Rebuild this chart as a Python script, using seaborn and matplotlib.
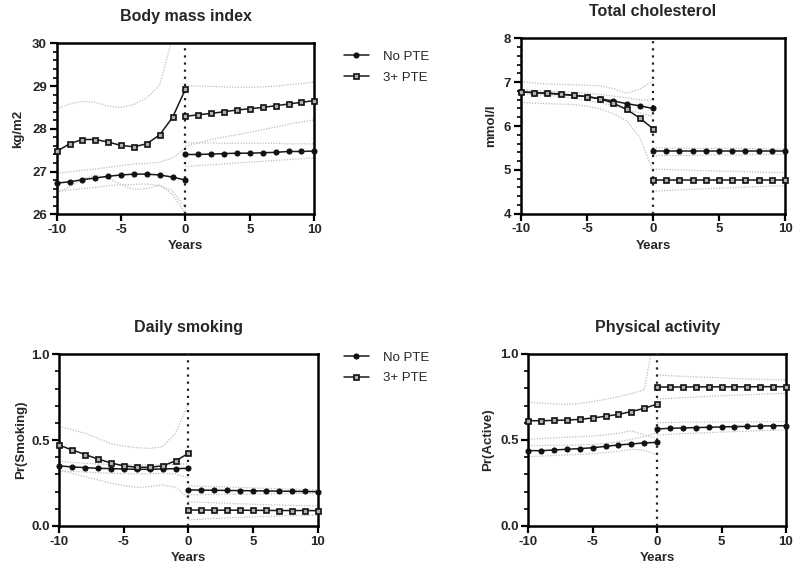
import numpy as np
import pandas as pd
import matplotlib
matplotlib.use("Agg")
import matplotlib.pyplot as plt
from matplotlib.lines import Line2D
from matplotlib.ticker import MultipleLocator
import seaborn as sns

sns.set_style("ticks")
plt.rcParams['font.family'] = ['Liberation Sans', 'DejaVu Sans']

years_pre = [-10, -9, -8, -7, -6, -5, -4, -3, -2, -1, 0]
years_post = [0, 1, 2, 3, 4, 5, 6, 7, 8, 9, 10]
group_labels = ["No PTE", "3+ PTE"]
x_ticks = [-10, -5, 0, 5, 10]

# ---- Body mass index ----
bmi_no_pre = [26.73, 26.76, 26.81, 26.85, 26.89, 26.92, 26.94, 26.94, 26.92, 26.87, 26.80]
bmi_no_post = [27.40, 27.40, 27.41, 27.42, 27.43, 27.43, 27.44, 27.45, 27.47, 27.47, 27.48]
bmi_pte_pre = [27.47, 27.65, 27.75, 27.75, 27.69, 27.61, 27.58, 27.65, 27.86, 28.27, 28.93]
bmi_pte_post = [28.29, 28.33, 28.36, 28.40, 28.44, 28.47, 28.50, 28.54, 28.58, 28.62, 28.66]
bmi_no_pre_lo = [26.54, 26.57, 26.60, 26.63, 26.67, 26.69, 26.70, 26.71, 26.67, 26.55, 26.15]
bmi_no_pre_hi = [26.96, 26.99, 27.03, 27.06, 27.10, 27.14, 27.18, 27.19, 27.22, 27.32, 27.55]
bmi_no_post_lo = [27.12, 27.14, 27.16, 27.18, 27.20, 27.22, 27.24, 27.26, 27.28, 27.30, 27.32]
bmi_no_post_hi = [27.67, 27.67, 27.67, 27.66, 27.66, 27.66, 27.66, 27.66, 27.65, 27.65, 27.65]
bmi_pte_pre_lo = [26.50, 26.65, 26.82, 26.92, 26.84, 26.70, 26.58, 26.60, 26.69, 26.46, 26.03]
bmi_pte_pre_hi = [28.47, 28.58, 28.64, 28.62, 28.53, 28.50, 28.57, 28.72, 29.03, 30.15, 31.50]
bmi_pte_post_lo = [27.59, 27.67, 27.75, 27.81, 27.86, 27.92, 27.98, 28.04, 28.11, 28.16, 28.21]
bmi_pte_post_hi = [29.01, 29.00, 28.99, 28.98, 28.97, 28.97, 28.98, 29.00, 29.03, 29.06, 29.10]

# ---- Total cholesterol ----
chol_no_pre = [6.78, 6.76, 6.75, 6.72, 6.70, 6.67, 6.62, 6.57, 6.51, 6.46, 6.40]
chol_no_post = [5.42, 5.42, 5.42, 5.42, 5.42, 5.42, 5.42, 5.42, 5.42, 5.42, 5.42]
chol_pte_pre = [6.78, 6.76, 6.75, 6.73, 6.70, 6.67, 6.62, 6.52, 6.38, 6.18, 5.94]
chol_pte_post = [4.78, 4.78, 4.78, 4.78, 4.78, 4.78, 4.78, 4.78, 4.78, 4.78, 4.78]
chol_no_pre_lo = [6.73, 6.72, 6.71, 6.67, 6.63, 6.58, 6.53, 6.46, 6.38, 6.30, 6.22]
chol_no_pre_hi = [6.83, 6.81, 6.80, 6.78, 6.77, 6.75, 6.72, 6.68, 6.64, 6.60, 6.59]
chol_no_post_lo = [5.32, 5.33, 5.33, 5.33, 5.34, 5.34, 5.34, 5.34, 5.35, 5.35, 5.35]
chol_no_post_hi = [5.50, 5.50, 5.50, 5.49, 5.49, 5.49, 5.49, 5.49, 5.48, 5.48, 5.48]
chol_pte_pre_lo = [6.54, 6.52, 6.51, 6.50, 6.49, 6.45, 6.39, 6.28, 6.12, 5.74, 4.98]
chol_pte_pre_hi = [7.01, 6.98, 6.96, 6.95, 6.94, 6.93, 6.92, 6.85, 6.75, 6.84, 7.03]
chol_pte_post_lo = [4.51, 4.53, 4.54, 4.56, 4.57, 4.58, 4.59, 4.61, 4.62, 4.63, 4.64]
chol_pte_post_hi = [5.02, 5.01, 5.00, 4.99, 4.98, 4.97, 4.97, 4.96, 4.95, 4.94, 4.94]

# ---- Daily smoking ----
smk_no_pre = [0.350, 0.344, 0.340, 0.336, 0.334, 0.332, 0.330, 0.330, 0.332, 0.334, 0.336]
smk_no_post = [0.210, 0.209, 0.208, 0.207, 0.206, 0.205, 0.204, 0.203, 0.202, 0.201, 0.200]
smk_pte_pre = [0.470, 0.443, 0.416, 0.390, 0.367, 0.350, 0.342, 0.342, 0.350, 0.379, 0.423]
smk_pte_post = [0.093, 0.093, 0.092, 0.092, 0.092, 0.091, 0.091, 0.090, 0.090, 0.090, 0.089]
smk_no_pre_lo = [0.322, 0.318, 0.314, 0.310, 0.307, 0.305, 0.303, 0.304, 0.307, 0.303, 0.278]
smk_no_pre_hi = [0.379, 0.370, 0.365, 0.361, 0.358, 0.356, 0.355, 0.355, 0.355, 0.358, 0.362]
smk_no_post_lo = [0.181, 0.182, 0.183, 0.184, 0.185, 0.186, 0.187, 0.188, 0.188, 0.189, 0.190]
smk_no_post_hi = [0.235, 0.232, 0.229, 0.227, 0.224, 0.222, 0.219, 0.217, 0.215, 0.212, 0.210]
smk_pte_pre_lo = [0.326, 0.306, 0.287, 0.268, 0.249, 0.235, 0.225, 0.229, 0.239, 0.225, 0.161]
smk_pte_pre_hi = [0.579, 0.560, 0.540, 0.510, 0.480, 0.465, 0.456, 0.452, 0.462, 0.540, 0.715]
smk_pte_post_lo = [0.035, 0.040, 0.044, 0.047, 0.050, 0.053, 0.055, 0.058, 0.060, 0.062, 0.064]
smk_pte_post_hi = [0.142, 0.138, 0.135, 0.132, 0.129, 0.127, 0.124, 0.122, 0.120, 0.118, 0.117]

# ---- Physical activity ----
act_no_pre = [0.438, 0.438, 0.442, 0.446, 0.450, 0.455, 0.463, 0.471, 0.477, 0.483, 0.486]
act_no_post = [0.564, 0.568, 0.570, 0.572, 0.574, 0.576, 0.578, 0.579, 0.581, 0.583, 0.583]
act_pte_pre = [0.612, 0.612, 0.614, 0.616, 0.620, 0.628, 0.638, 0.649, 0.665, 0.684, 0.709]
act_pte_post = [0.808, 0.808, 0.808, 0.809, 0.809, 0.809, 0.809, 0.809, 0.810, 0.810, 0.810]
act_no_pre_lo = [0.403, 0.406, 0.410, 0.413, 0.417, 0.421, 0.426, 0.434, 0.446, 0.440, 0.413]
act_no_pre_hi = [0.467, 0.468, 0.469, 0.470, 0.471, 0.474, 0.480, 0.490, 0.504, 0.520, 0.543]
act_no_post_lo = [0.529, 0.533, 0.537, 0.540, 0.543, 0.546, 0.549, 0.551, 0.554, 0.556, 0.558]
act_no_post_hi = [0.601, 0.602, 0.603, 0.603, 0.604, 0.604, 0.605, 0.605, 0.606, 0.606, 0.607]
act_pte_pre_lo = [0.504, 0.508, 0.512, 0.516, 0.520, 0.523, 0.530, 0.539, 0.554, 0.529, 0.510]
act_pte_pre_hi = [0.719, 0.715, 0.710, 0.707, 0.712, 0.723, 0.737, 0.752, 0.770, 0.791, 1.200]
act_pte_post_lo = [0.738, 0.742, 0.746, 0.750, 0.753, 0.757, 0.760, 0.763, 0.766, 0.769, 0.771]
act_pte_post_hi = [0.878, 0.874, 0.870, 0.867, 0.864, 0.861, 0.858, 0.855, 0.853, 0.851, 0.849]

panels = [
    dict(title="Body mass index", ylabel="kg/m2", ylim=(26, 30), yticks=[26, 27, 28, 29, 30],
         yticklabels=["26", "27", "28", "29", "30"], minor=0.2, labelpad=6,
         pos=[0.0706, 0.6324, 0.3208, 0.2933],
         est=[(bmi_no_pre, bmi_no_post), (bmi_pte_pre, bmi_pte_post)],
         ci=[bmi_no_pre_lo, bmi_no_pre_hi, bmi_pte_pre_lo, bmi_pte_pre_hi],
         ci_post=[bmi_no_post_lo, bmi_no_post_hi, bmi_pte_post_lo, bmi_pte_post_hi]),
    dict(title="Total cholesterol", ylabel="mmol/l", ylim=(4, 8), yticks=[4, 5, 6, 7, 8],
         yticklabels=["4", "5", "6", "7", "8"], minor=0.2, labelpad=5,
         pos=[0.6488, 0.6334, 0.3288, 0.3009],
         est=[(chol_no_pre, chol_no_post), (chol_pte_pre, chol_pte_post)],
         ci=[chol_no_pre_lo, chol_no_pre_hi, chol_pte_pre_lo, chol_pte_pre_hi],
         ci_post=[chol_no_post_lo, chol_no_post_hi, chol_pte_post_lo, chol_pte_post_hi]),
    dict(title="Daily smoking", ylabel="Pr(Smoking)", ylim=(0, 1), yticks=[0, 0.5, 1.0],
         yticklabels=["0.0", "0.5", "1.0"], minor=0.1, labelpad=3,
         pos=[0.0738, 0.0978, 0.3218, 0.2945],
         est=[(smk_no_pre, smk_no_post), (smk_pte_pre, smk_pte_post)],
         ci=[smk_no_pre_lo, smk_no_pre_hi, smk_pte_pre_lo, smk_pte_pre_hi],
         ci_post=[smk_no_post_lo, smk_no_post_hi, smk_pte_post_lo, smk_pte_post_hi]),
    dict(title="Physical activity", ylabel="Pr(Active)", ylim=(0, 1), yticks=[0, 0.5, 1.0],
         yticklabels=["0.0", "0.5", "1.0"], minor=0.1, labelpad=4,
         pos=[0.6579, 0.0978, 0.3209, 0.2950],
         est=[(act_no_pre, act_no_post), (act_pte_pre, act_pte_post)],
         ci=[act_no_pre_lo, act_no_pre_hi, act_pte_pre_lo, act_pte_pre_hi],
         ci_post=[act_no_post_lo, act_no_post_hi, act_pte_post_lo, act_pte_post_hi]),
]

line_color = "#1a1a1a"
ci_color = "#bdbdbd"
styles = [
    dict(marker="o", markersize=3.6, markerfacecolor="#111111", markeredgecolor="#111111",
         markeredgewidth=0.8),
    dict(marker="s", markersize=3.6, markerfacecolor="#b0b0b0", markeredgecolor="#111111",
         markeredgewidth=1.2),
]

fig = plt.figure(figsize=(8.03, 5.83), dpi=100)
fig.patch.set_facecolor("white")

for p in panels:
    ax = fig.add_axes(p["pos"])
    ax.set_facecolor("white")
    # confidence bands (dotted)
    for ci_vals in p["ci"]:
        sns.lineplot(x=years_pre, y=ci_vals, ax=ax, color=ci_color, linestyle=(0, (1, 1.2)),
                     linewidth=0.9, legend=False, zorder=2)
    for ci_vals in p["ci_post"]:
        sns.lineplot(x=years_post, y=ci_vals, ax=ax, color=ci_color, linestyle=(0, (1, 1.2)),
                     linewidth=0.9, legend=False, zorder=2)
    # vertical dotted line at 0
    ax.axvline(0, color="#222222", linestyle=(0, (1, 2.2)), linewidth=1.6, zorder=3)
    # estimates
    for (pre, post), st in zip(p["est"], styles):
        for xs, ys in ((years_pre, pre), (years_post, post)):
            sns.lineplot(x=xs, y=ys, ax=ax, color=line_color, linewidth=1.1, legend=False,
                         zorder=5, clip_on=False, **st)
    ax.set_xlim(-10, 10)
    ax.set_ylim(*p["ylim"])
    ax.set_xticks(x_ticks)
    ax.set_xticklabels([str(v) for v in x_ticks], fontweight="bold", fontsize=9.5)
    ax.set_yticks(p["yticks"])
    ax.set_yticklabels(p["yticklabels"], fontweight="bold", fontsize=9.5)
    ax.yaxis.set_minor_locator(MultipleLocator(p["minor"]))
    ax.tick_params(axis="both", which="major", direction="out", length=5, width=1.6,
                   color="black", pad=2)
    ax.tick_params(axis="y", which="minor", direction="out", length=3, width=1.2, color="black")
    for s in ax.spines.values():
        s.set_visible(True)
        s.set_linewidth(1.8)
        s.set_color("black")
    ax.set_title(p["title"], fontweight="bold", fontsize=11.5, pad=16)
    ax.set_xlabel("Years", fontweight="bold", fontsize=9.5, labelpad=3)
    ax.set_ylabel(p["ylabel"], fontweight="bold", fontsize=9.5, labelpad=p["labelpad"])

handles = [Line2D([0], [0], color=line_color, linewidth=1.1, **st) for st in styles]
for ycenter in (0.885, 0.369):
    fig.legend(handles, group_labels, loc="center left", bbox_to_anchor=(0.428, ycenter),
               frameon=False, fontsize=9.5, handlelength=1.9, handletextpad=1.1,
               labelspacing=0.65, borderpad=0, borderaxespad=0)

fig.savefig("out.png", dpi=100, facecolor="white")
